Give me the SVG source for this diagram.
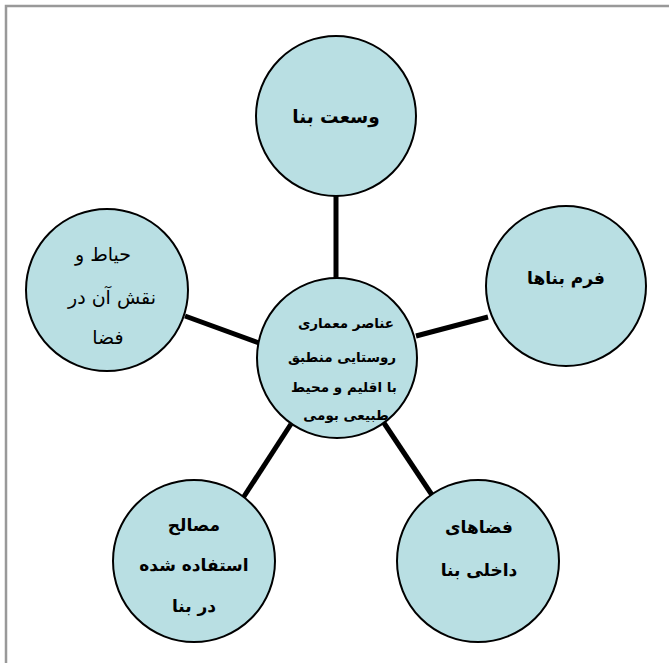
<svg xmlns="http://www.w3.org/2000/svg" width="669" height="663" viewBox="0 0 669 663">
<style>
.n{fill:#B9DFE3;stroke:#000;stroke-width:2}
.t{font-family:"DejaVu Sans",sans-serif;font-size:17px;font-weight:bold;fill:#000;text-anchor:middle}
.tc{font-family:"DejaVu Sans",sans-serif;font-size:13.5px;font-weight:bold;fill:#000;text-anchor:middle}
.tl{font-family:"DejaVu Sans",sans-serif;font-size:19px;fill:#000;text-anchor:middle}
.c{stroke:#000;stroke-width:5;fill:none}
</style>
<defs><clipPath id="cc"><circle cx="337" cy="358" r="80"/></clipPath></defs>
<rect width="669" height="663" fill="#fff"/>
<path d="M6,663 V6 H669" fill="none" stroke="#999" stroke-width="2.5"/>
<g id="connectors">
<line class="c" x1="336" y1="195" x2="336" y2="279"/>
<line class="c" x1="416" y1="336" x2="488" y2="317"/>
<line class="c" x1="185" y1="316" x2="259" y2="343"/>
<line class="c" x1="243" y1="498" x2="291" y2="424"/>
<line class="c" x1="384" y1="423" x2="432" y2="495"/>
</g>
<g id="center">
<circle class="n" cx="337" cy="358" r="80"/>
<g clip-path="url(#cc)">
<text class="tc" x="346" y="328">عناصر معماری</text>
<text class="tc" x="342" y="362">روستایی منطبق</text>
<text class="tc" x="344" y="392">با اقلیم و محیط</text>
<text class="tc" x="346" y="420">طبیعی بومی</text>
</g>
</g>
<g id="top">
<circle class="n" cx="336" cy="116" r="80"/>
<text class="t" x="336" y="123" style="font-size:18.5px">وسعت بنا</text>
</g>
<g id="right">
<circle class="n" cx="566" cy="286" r="80"/>
<text class="t" x="566" y="284">فرم بناها</text>
</g>
<g id="left">
<circle class="n" cx="107" cy="290" r="81"/>
<text class="tl" x="103" y="261">حیاط و</text>
<text class="tl" x="112" y="304">نقش آن در</text>
<text class="tl" x="108" y="344">فضا</text>
</g>
<g id="bottom-left">
<circle class="n" cx="194" cy="561" r="81"/>
<text class="t" x="194" y="531">مصالح</text>
<text class="t" x="194" y="571">استفاده شده</text>
<text class="t" x="194" y="612">در بنا</text>
</g>
<g id="bottom-right">
<circle class="n" cx="478" cy="561" r="81"/>
<text class="t" x="479" y="533">فضاهای</text>
<text class="t" x="479" y="576">داخلی بنا</text>
</g>
</svg>
